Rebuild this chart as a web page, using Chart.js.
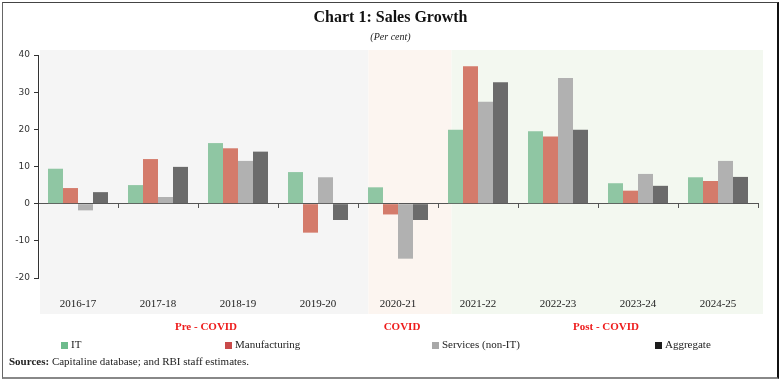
<!DOCTYPE html>
<html>
<head>
<meta charset="utf-8">
<script src="https://cdn.jsdelivr.net/npm/chart.js@4/dist/chart.umd.min.js"></script>
<style>
  html, body { margin: 0; padding: 0; background: #fff; }
  #wrap { position: absolute; left: 0; top: 0; width: 781px; height: 381px; }
  #frame { position: absolute; left: 2px; top: 2px; width: 774px; height: 374px;
           border-left: 1px solid #666; border-top: 1px solid #444;
           border-right: 2px solid #111; border-bottom: 2px solid #888; }
  #title { position: absolute; left: 0; width: 781px; top: 8px; text-align: center;
           font: bold 16px "Liberation Serif", serif; color: #111; }
  #subtitle { position: absolute; left: 0; width: 781px; top: 31px; text-align: center;
              font: italic 10px "Liberation Serif", serif; color: #222; }
  #chartBox { position: absolute; left: 0; top: 0; width: 781px; height: 381px; }
  .leg { position: absolute; top: 338px; font: 11px "Liberation Serif", serif; color: #222; white-space: nowrap; }
  .leg span.sw { position: absolute; top: 4px; width: 7px; height: 7px; }
  #sources { position: absolute; left: 9px; top: 355px; font: 11px "Liberation Serif", serif; color: #222; }
</style>
</head>
<body>
<div id="wrap">
  <div id="chartBox"><canvas id="c" width="781" height="381"></canvas></div>
  <div id="frame"></div>
  <div id="title">Chart 1: Sales Growth</div>
  <div id="subtitle">(Per cent)</div>
  <div id="legend"></div>
  <div id="sources"><b>Sources:</b> Capitaline database; and RBI staff estimates.</div>
</div>
<script>
const categories = ['2016-17','2017-18','2018-19','2019-20','2020-21','2021-22','2022-23','2023-24','2024-25'];
const itGrowth = [9.4, 5.0, 16.3, 8.5, 4.4, 19.9, 19.5, 5.5, 7.1];
const manufacturingGrowth = [4.2, 12.0, 14.9, -7.8, -2.9, 37.0, 18.1, 3.5, 6.1];
const servicesGrowth = [-1.8, 1.8, 11.5, 7.1, -14.8, 27.4, 33.8, 8.0, 11.5];
const aggregateGrowth = [3.1, 9.9, 14.0, -4.4, -4.4, 32.7, 19.9, 4.8, 7.2];
const seriesNames = ['IT', 'Manufacturing', 'Services (non-IT)', 'Aggregate'];
const yTicks = [-20, -10, 0, 10, 20, 30, 40];
const periods = ['Pre - COVID', 'COVID', 'Post - COVID'];

const barColors = ['#8fc6a3', '#d47b6b', '#b1b1b1', '#6b6b6b'];
const legendColors = ['#6dbb8c', '#c94a4a', '#a8a8a8', '#1c1c1c'];
const legendLeft = [61, 225, 432, 655];

const seriesData = [itGrowth, manufacturingGrowth, servicesGrowth, aggregateGrowth];

const bgPlugin = {
  id: 'periodBg',
  beforeDraw(chart) {
    const {ctx, chartArea} = chart;
    const xs = chart.scales.x;
    const top = chartArea.top - 5, bottom = chartArea.bottom + 36;
    const b1 = xs.getPixelForValue(3.63), b2 = xs.getPixelForValue(4.67);
    ctx.save();
    ctx.fillStyle = '#f5f5f5';
    ctx.fillRect(chartArea.left + 2, top, b1 - chartArea.left - 2, bottom - top);
    ctx.fillStyle = '#fcf5f0';
    ctx.fillRect(b1, top, b2 - b1, bottom - top);
    ctx.fillStyle = '#f3f8f0';
    ctx.fillRect(b2, top, chartArea.right + 5 - b2, bottom - top);
    ctx.restore();
  },
  afterDraw(chart) {
    const {ctx, chartArea} = chart;
    const xs = chart.scales.x;
    const centers = [xs.getPixelForValue(1.5) + 8, xs.getPixelForValue(4) + 4, xs.getPixelForValue(6.5) + 8];
    ctx.save();
    ctx.fillStyle = '#ee1c1c';
    ctx.font = 'bold 11px "Liberation Serif", serif';
    ctx.textAlign = 'center';
    ctx.textBaseline = 'middle';
    periods.forEach((p, i) => ctx.fillText(p, centers[i], chartArea.bottom + 49));
    ctx.restore();
  }
};

const chart = new Chart(document.getElementById('c'), {
  type: 'bar',
  data: {
    labels: categories,
    datasets: seriesNames.map((name, i) => ({
      label: name,
      data: seriesData[i],
      backgroundColor: barColors[i],
      borderWidth: 0,
      categoryPercentage: 0.75,
      barPercentage: 1.0
    }))
  },
  options: {
    responsive: false,
    animation: false,
    layout: { padding: { left: 8, right: 23, top: 55, bottom: 67 } },
    plugins: { legend: { display: false }, title: { display: false }, tooltip: { enabled: false } },
    scales: {
      x: {
        type: 'category',
        position: { y: 0 },
        grid: { display: true, drawOnChartArea: false, drawTicks: true, tickLength: 4, offset: true, color: '#555' },
        border: { display: true, color: '#555', width: 1 },
        ticks: { display: false }
      },
      x2: {
        type: 'category',
        position: 'bottom',
        labels: categories,
        grid: { display: false },
        border: { display: false },
        ticks: { padding: 12, font: { family: '"Liberation Serif", serif', size: 11 }, color: '#222', maxRotation: 0 },
        afterFit(scale) { scale.height = 36; }
      },
      y: {
        min: -20, max: 40,
        afterBuildTicks(scale) { scale.ticks = yTicks.map(v => ({ value: v })); },
        grid: { display: true, drawOnChartArea: false, drawTicks: true, tickLength: 4, color: '#333' },
        border: { display: true, color: '#333', width: 1 },
        ticks: { font: { family: '"DejaVu Sans", sans-serif', size: 9 }, color: '#333', padding: 4 },
        afterFit(scale) { scale.width = 30; }
      }
    }
  },
  plugins: [bgPlugin]
});

const legendEl = document.getElementById('legend');
chart.data.datasets.forEach((ds, i) => {
  const item = document.createElement('div');
  item.className = 'leg';
  item.style.left = legendLeft[i] + 'px';
  item.innerHTML = '<span class="sw" style="left:0;background:' + legendColors[i] + '"></span><span style="margin-left:10px">' + ds.label + '</span>';
  legendEl.appendChild(item);
});
</script>
</body>
</html>
